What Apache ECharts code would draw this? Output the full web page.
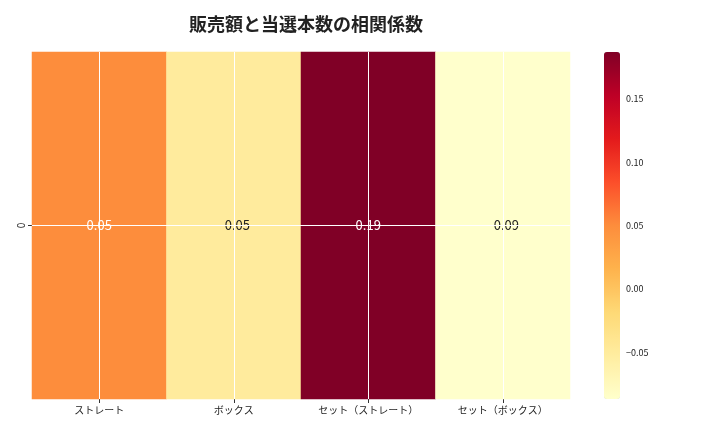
<!DOCTYPE html>
<html><head><meta charset="utf-8">
<script src="https://cdn.jsdelivr.net/npm/echarts@6/dist/echarts.min.js"></script>
<style>html,body{margin:0;padding:0;background:#fff}#c{width:720px;height:432px}</style>
</head><body><div id="c"></div>
<script>
const categories = ['ストレート','ボックス','セット（ストレート）','セット（ボックス）'];
const rows = ['0'];
const values = [0.05, -0.05, 0.187, -0.087];
const colorTicks = [-0.05, 0, 0.05, 0.10, 0.15];
const vmin = -0.087, vmax = 0.187;
const fmt = v => (v < 0 ? '\u2212' : '') + Math.abs(v).toFixed(2);
const font = '"Noto Sans CJK JP","Noto Sans",sans-serif';
const chart = echarts.init(document.getElementById('c'));
chart.setOption({
  animation:false,
  textStyle:{fontFamily:font},
  title:{text:'販売額と当選本数の相関係数',left:301,top:10,textAlign:'center',
    textStyle:{fontSize:18,fontWeight:'bold',color:'#222',fontFamily:font}},
  grid:[{left:32,top:52,width:538,height:347},{left:604,top:52,width:16,height:347}],
  xAxis:[{type:'category',data:categories,gridIndex:0,axisLine:{show:false},
      axisTick:{show:true,alignWithLabel:true,length:4,lineStyle:{color:'#333'}},splitLine:{show:false},
      axisLabel:{fontSize:10,color:'#222',margin:6}},
    {type:'value',gridIndex:1,show:false}],
  yAxis:[{type:'category',data:rows,gridIndex:0,axisLine:{show:false},
      axisTick:{show:true,alignWithLabel:true,length:4,lineStyle:{color:'#333'}},
      axisLabel:{fontSize:10,color:'#222',rotate:90,margin:6}},
    {type:'value',gridIndex:1,position:'right',min:vmin,max:vmax,
      axisLine:{show:false},splitLine:{show:false},
      axisTick:{show:true,length:4,lineStyle:{color:'#333'},customValues:colorTicks},
      axisLabel:{fontSize:9,color:'#222',margin:6,customValues:colorTicks,formatter:fmt}}],
  visualMap:{type:'continuous',min:vmin,max:vmax,calculable:false,seriesIndex:0,
    left:604,top:52,itemWidth:16,itemHeight:347,padding:0,text:['',''],showLabel:false,
    inRange:{color:['#ffffcc','#ffeda0','#fed976','#feb24c','#fd8d3c','#fc4e2a','#e31a1c','#bd0026','#800026']}},
  series:[{type:'heatmap',xAxisIndex:0,yAxisIndex:0,
    data:values.map((v,i)=>[i,0,v]),
    label:{show:true,fontSize:13,formatter:p=>fmt(p.value[2]),
      color:'#222'},
    labelLayout:null,
    markLine:{silent:true,symbol:'none',label:{show:false},
      lineStyle:{color:'#fff',width:1,type:'solid'},
      data:categories.map(c=>({xAxis:c})).concat([{yAxis:'0'}])}}]
});
chart.setOption({series:[{data:values.map((v,i)=>({value:[i,0,v],label:{color:v>0?'#fff':'#222'}}))}]});
</script></body></html>
